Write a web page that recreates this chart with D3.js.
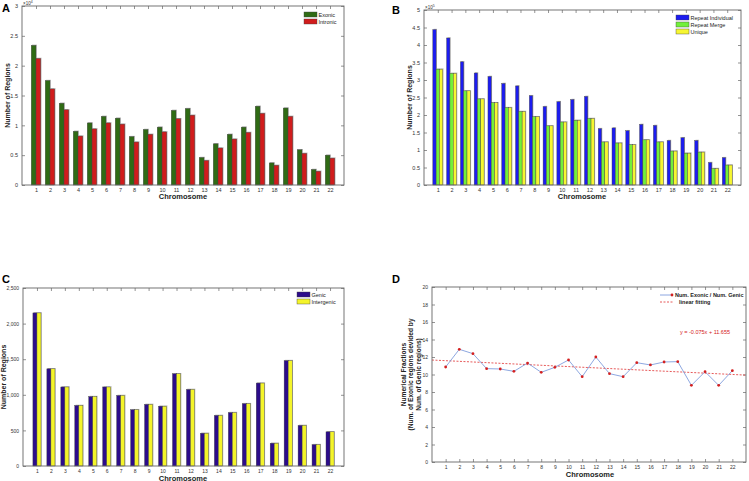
<!DOCTYPE html>
<html><head><meta charset="utf-8">
<script src="https://cdn.jsdelivr.net/npm/d3@7"></script>
<style>body{margin:0;background:#fff}svg{display:block;font-family:"Liberation Sans",Arial,sans-serif}</style>
</head><body><svg id="c" width="749" height="481"></svg>
<script>
const chromosomes = ["1","2","3","4","5","6","7","8","9","10","11","12","13","14","15","16","17","18","19","20","21","22"];
// Panel A (x10^4)
const exonic   = [2.34,1.75,1.37,0.90,1.04,1.15,1.12,0.81,0.93,0.97,1.25,1.28,0.46,0.69,0.85,0.97,1.32,0.37,1.29,0.59,0.26,0.50];
const intronic = [2.12,1.61,1.26,0.82,0.94,1.04,1.02,0.72,0.85,0.89,1.11,1.17,0.41,0.62,0.77,0.88,1.20,0.33,1.15,0.53,0.23,0.45];
// Panel B (x10^5)
const repeatIndividual = [4.44,4.20,3.52,3.20,3.10,2.90,2.83,2.55,2.24,2.38,2.44,2.53,1.61,1.63,1.55,1.73,1.70,1.27,1.35,1.27,0.64,0.78];
const repeatMerge      = [3.31,3.19,2.69,2.46,2.35,2.21,2.10,1.95,1.69,1.80,1.85,1.90,1.23,1.20,1.15,1.29,1.23,0.97,0.91,0.94,0.47,0.57];
const unique           = [3.31,3.19,2.69,2.46,2.35,2.21,2.10,1.95,1.69,1.80,1.85,1.90,1.23,1.20,1.15,1.29,1.23,0.97,0.91,0.94,0.47,0.57];
// Panel C
const genic      = [2150,1365,1110,850,975,1110,990,790,865,840,1295,1075,460,710,750,875,1165,320,1480,570,300,480];
const intergenic = [2150,1365,1110,850,975,1110,990,790,865,840,1295,1075,460,710,750,875,1165,320,1480,570,300,480];
// Panel D
const fraction = [10.86,12.88,12.38,10.67,10.63,10.36,11.31,10.25,10.82,11.66,9.75,12.0,10.10,9.75,11.35,11.09,11.43,11.47,8.76,10.32,8.76,10.44];
const fitSlope = -0.075, fitIntercept = 11.655;
const ticksA = [0,0.5,1,1.5,2,2.5,3];
const ticksB = [0,0.5,1,1.5,2,2.5,3,3.5,4,4.5,5];
const ticksC = [0,500,1000,1500,2000,2500];
const ticksD = [0,2,4,6,8,10,12,14,16,18,20];

const svg = d3.select("#c");
const FS = 5.5, AXC = "#666";

function frame(box, ticks, fmt, yMax, fs) {
  const g = svg.append("g");
  const x = d3.scaleLinear().domain([0,23]).range([box.x0, box.x1]);
  const y = d3.scaleLinear().domain([0,yMax]).range([box.y1, box.y0]);
  const xt = chromosomes.map((c,i)=>i+1);
  const styl = a => { a.selectAll("path").remove(); a.selectAll("line").attr("stroke",AXC).attr("stroke-width",0.7); a.selectAll("text").attr("font-size",fs||FS).attr("fill","#333"); };
  g.append("g").attr("transform",`translate(0,${box.y1})`).call(d3.axisBottom(x).tickValues(xt).tickFormat((d,i)=>chromosomes[i]).tickSize(-3).tickPadding(3)).call(styl);
  g.append("g").attr("transform",`translate(0,${box.y0})`).call(d3.axisTop(x).tickValues(xt).tickFormat("").tickSize(-3)).call(styl);
  g.append("g").attr("transform",`translate(${box.x0},0)`).call(d3.axisLeft(y).tickValues(ticks).tickFormat(fmt).tickSize(-3).tickPadding(4)).call(styl);
  g.append("g").attr("transform",`translate(${box.x1},0)`).call(d3.axisRight(y).tickValues(ticks).tickFormat("").tickSize(-3)).call(styl);
  return {g,x,y};
}
function border(box){
  svg.append("rect").attr("x",box.x0).attr("y",box.y0).attr("width",box.x1-box.x0).attr("height",box.y1-box.y0)
    .attr("fill","none").attr("stroke",AXC).attr("stroke-width",0.9);
}
function labels(box, ylab, ylabX, xlabX, xlabY, letter, lx, ly, yfs){
  const t = svg.append("text").attr("transform",`translate(${ylabX},${(box.y0+box.y1)/2}) rotate(-90)`)
    .attr("text-anchor","middle").attr("font-size",yfs||7).attr("font-weight","bold").attr("fill","#222");
  ylab.forEach((l,i)=>t.append("tspan").attr("x",0).attr("dy",i===0?0:7.5).text(l));
  svg.append("text").attr("x",xlabX).attr("y",xlabY).attr("text-anchor","middle").attr("font-size",7.5).attr("font-weight","bold").attr("fill","#222").text("Chromosome");
  svg.append("text").attr("x",lx).attr("y",ly).attr("font-size",11).attr("font-weight","bold").attr("fill","#000").text(letter);
}
function bars(f, series, colors, wFrac){
  const bw = (f.x(1)-f.x(0))*wFrac, n = series.length;
  series.forEach((s,k)=>{
    const off = (k-(n-1)/2)*bw - bw/2;
    f.g.append("g").selectAll("rect.sh").data(s).join("rect")
      .attr("x",(d,i)=>f.x(i+1)+off+0.8).attr("y",d=>f.y(d)-0.8).attr("width",bw).attr("height",d=>f.y(0)-f.y(d)+0.8)
      .attr("fill","#bbb");
  });
  series.forEach((s,k)=>{
    const off = (k-(n-1)/2)*bw - bw/2;
    f.g.append("g").selectAll("rect").data(s).join("rect")
      .attr("x",(d,i)=>f.x(i+1)+off).attr("y",d=>f.y(d)).attr("width",bw).attr("height",d=>f.y(0)-f.y(d))
      .attr("fill",colors[k]).attr("stroke","#444").attr("stroke-width",0.4);
  });
}
function legend(x0,y0,step,names,colors){
  names.forEach((n,i)=>{
    svg.append("rect").attr("x",x0).attr("y",y0+i*step).attr("width",13).attr("height",5).attr("fill",colors[i]).attr("stroke","#444").attr("stroke-width",0.4);
    svg.append("text").attr("x",x0+14.5).attr("y",y0+i*step+4.6).attr("font-size",FS).attr("fill","#222").text(n);
  });
}

// Panel A
const bA = {x0:22,x1:344,y0:6,y1:185};
const fA = frame(bA, ticksA, d=>String(d), 3);
bars(fA,[exonic,intronic],["#2f6b14","#d01c1c"],0.34);
border(bA);
labels(bA,["Number of Regions"],10,183,199,"A",2,12);
svg.append("text").attr("x",23).attr("y",5).attr("font-size",4.5).attr("fill","#333").text("×10").append("tspan").attr("dy",-2).attr("font-size",3.5).text("4");
legend(304,12,7,["Exonic","Intronic"],["#2f6b14","#d01c1c"]);

// Panel B
const bB = {x0:424,x1:741,y0:10,y1:185};
const fB = frame(bB, ticksB, d=>String(d), 5);
bars(fB,[repeatIndividual,repeatMerge,unique],["#1c1cf0","#72f03a","#f6f632"],0.24);
border(bB);
labels(bB,["Number of Regions"],412,582,199,"B",392,14);
svg.append("text").attr("x",425).attr("y",9).attr("font-size",4.5).attr("fill","#333").text("×10").append("tspan").attr("dy",-2).attr("font-size",3.5).text("5");
legend(676,15,7,["Repeat Individual","Repeat Merge","Unique"],["#1c1cf0","#72f03a","#f6f632"]);

// Panel C
const bC = {x0:23,x1:344,y0:288,y1:466};
const fC = frame(bC, ticksC, d3.format(","), 2500, 5);
bars(fC,[genic,intergenic],["#2c0c8a","#f4f42a"],0.29);
border(bC);
labels(bC,["Number of Regions"],6,183,480.5,"C",2,283);
legend(297,292,7,["Genic","Intergenic"],["#2c0c8a","#f4f42a"]);

// Panel D
const bD = {x0:432,x1:746,y0:287,y1:462};
const fD = frame(bD, ticksD, d=>String(d), 20, 5);
fD.g.append("line").attr("x1",fD.x(0)).attr("x2",fD.x(23)).attr("y1",fD.y(fitIntercept)).attr("y2",fD.y(fitIntercept+fitSlope*23))
  .attr("stroke","#e03030").attr("stroke-width",0.8).attr("stroke-dasharray","2,1.5");
fD.g.append("path").datum(fraction).attr("fill","none").attr("stroke","#7090d8").attr("stroke-width",0.8)
  .attr("d",d3.line().x((d,i)=>fD.x(i+1)).y(d=>fD.y(d)));
fD.g.selectAll("circle").data(fraction).join("circle").attr("cx",(d,i)=>fD.x(i+1)).attr("cy",d=>fD.y(d)).attr("r",1.4).attr("fill","#d42020");
border(bD);
labels(bD,["Numerical Fractions","(Num. of Exonic regions devided by","Num. of Genic regions)"],405.5,590,477,"D",392,283,6.6);
svg.append("line").attr("x1",660).attr("x2",673).attr("y1",295).attr("y2",295).attr("stroke","#7090d8").attr("stroke-width",0.8);
svg.append("circle").attr("cx",672).attr("cy",295).attr("r",1.4).attr("fill","#d42020");
svg.append("text").attr("x",675).attr("y",297).attr("font-size",FS).attr("font-weight","bold").attr("fill","#222").text("Num. Exonic / Num. Genic");
svg.append("line").attr("x1",660).attr("x2",673).attr("y1",302).attr("y2",302).attr("stroke","#e03030").attr("stroke-width",0.8).attr("stroke-dasharray","2,1.5");
svg.append("text").attr("x",679).attr("y",304).attr("font-size",FS).attr("font-weight","bold").attr("fill","#222").text("linear fitting");
svg.append("text").attr("x",680).attr("y",334).attr("font-size",FS).attr("fill","#d42020").text("y = -0.075x + 11.655");
</script></body></html>
